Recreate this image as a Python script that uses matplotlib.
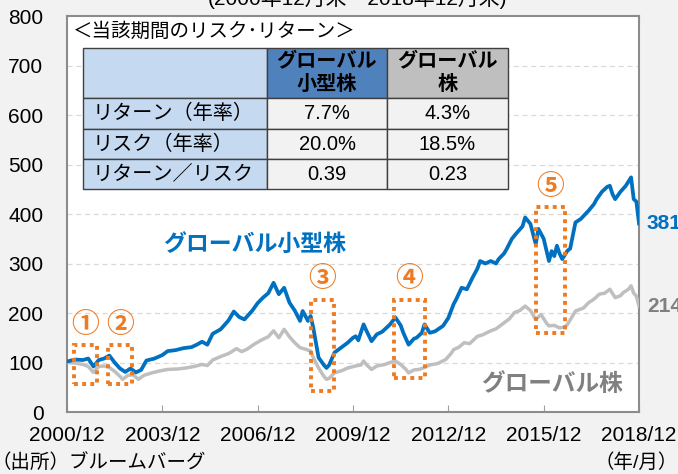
import matplotlib.pyplot as plt
from matplotlib.patches import Rectangle

plt.rcParams['font.family'] = ['Liberation Sans', 'Noto Sans CJK JP']

# months since 2000/12 and index values (2000/12 = 100)
small_m = [0, 3, 6, 8, 10, 12, 14, 16, 18, 20, 22, 24, 26, 28, 30, 33, 36, 38, 41, 44,
           47, 49, 51, 53, 55, 58, 61, 63, 65, 67, 70, 72, 74, 76, 78, 80, 82, 84, 86, 88,
           89, 91, 92, 93, 95, 97, 98, 99, 101, 103, 106, 108, 109, 110, 112, 113, 115, 117, 119, 122,
           124, 126, 127, 129, 131, 132, 134, 135, 137, 139, 142, 144, 146, 147, 149, 151, 153, 155, 156, 158,
           160, 162, 163, 165, 166, 168, 170, 172, 173, 175, 177, 178, 180, 182, 183, 184, 185, 186, 187, 189,
           190, 192, 194, 197, 199, 200, 202, 204, 205, 206, 207, 209, 211, 213, 214, 215, 216]
small_v = [102, 106, 105, 108, 92, 105, 108, 114, 100, 88, 81, 88, 80, 85, 104, 108, 115, 123, 125, 129,
           131, 136, 142, 136, 158, 167, 185, 203, 192, 187, 205, 220, 231, 240, 261, 238, 251, 221, 205, 184,
           204, 184, 194, 170, 110, 95, 89, 95, 120, 128, 140, 150, 153, 145, 177, 165, 143, 157, 162, 177,
           191, 175, 160, 136, 148, 150, 160, 177, 160, 163, 174, 190, 218, 228, 251, 248, 270, 290, 305, 300,
           305, 300, 309, 320, 329, 350, 363, 375, 393, 380, 339, 370, 350, 305, 325, 315, 336, 320, 309, 326,
           330, 383, 390, 407, 420, 430, 445, 455, 457, 440, 430, 445, 457, 474, 430, 425, 381]

global_m = [0, 3, 6, 8, 10, 12, 14, 16, 18, 20, 21, 23, 25, 27, 29, 32, 35, 38, 42, 45,
            48, 51, 53, 55, 58, 61, 64, 66, 68, 71, 74, 76, 78, 80, 82, 84, 86, 88, 90, 92,
            93, 95, 97, 98, 99, 101, 104, 106, 109, 111, 112, 113, 115, 117, 120, 122, 124, 126, 128, 129,
            131, 133, 135, 137, 140, 143, 145, 146, 148, 150, 152, 155, 157, 160, 162, 165, 167, 169, 171, 173,
            175, 177, 179, 181, 182, 184, 186, 188, 189, 191, 192, 195, 197, 199, 201, 203, 205, 207, 209, 210,
            212, 213, 214, 215, 216]
global_v = [100, 99, 96, 92, 80, 92, 93, 90, 82, 72, 66, 74, 75, 66, 74, 79, 83, 86, 87, 89,
            92, 96, 94, 105, 112, 118, 128, 122, 127, 138, 147, 152, 164, 150, 167, 152, 140, 130, 127, 123,
            110, 89, 72, 66, 68, 79, 84, 89, 93, 95, 103, 96, 86, 93, 96, 100, 103, 96, 86, 79,
            85, 86, 90, 95, 98, 106, 118, 126, 131, 140, 138, 153, 156, 164, 168, 180, 188, 201, 205, 214,
            205, 187, 197, 180, 174, 175, 170, 172, 177, 195, 204, 210, 221, 228, 238, 240, 248, 231, 235, 241,
            248, 255, 240, 234, 214]

# highlighted periods: month range, value range, label
box_m0 = [2.5, 15.5, 92, 123.5, 177]
box_m1 = [11.5, 24.5, 101, 135, 188]
box_lo = [57, 57, 42, 69, 159]
box_hi = [136, 136, 226, 226, 415]
box_labels = ['①', '②', '③', '④', '⑤']
box_label_v = [174, 174, 267, 267, 452]

tick_m = [0, 36, 72, 108, 144, 180, 216]
tick_labels = ['2000/12', '2003/12', '2006/12', '2009/12', '2012/12', '2015/12', '2018/12']

table_rows = ['リターン（年率）', 'リスク（年率）', 'リターン／リスク']
table_small = ['7.7%', '20.0%', '0.39']
table_global = ['4.3%', '18.5%', '0.23']

blue = '#0070C0'
grey = '#BFBFBF'
orange = '#EE7B22'

fig = plt.figure(figsize=(6.78, 4.74), dpi=100, facecolor='#F2F2F2')
ax = fig.add_axes([0.0988, 0.1308, 0.8437, 0.8354])
ax.set_facecolor('white')

ax.plot(global_m, global_v, color=grey, lw=2.5, zorder=3)
ax.plot(small_m, small_v, color=blue, lw=2.7, zorder=4)

ax.set_xlim(0, 216)
ax.set_ylim(0, 800)
ax.set_xticks(tick_m)
ax.set_xticklabels(tick_labels)
ax.set_yticks(range(0, 801, 100))
ax.tick_params(axis='x', direction='in', length=5, color='#A0A0A0', labelsize=15, pad=10)
ax.tick_params(axis='y', length=0, labelsize=15, pad=17)
for y in range(100, 800, 100):
    ax.axhline(y, color='#D9D9D9', lw=0.9, ls=(0, (4, 3)), zorder=1)
for s in ax.spines.values():
    s.set_color('#8C8C8C')
    s.set_linewidth(1.5)

for i in range(len(box_labels)):
    ax.add_patch(Rectangle((box_m0[i], box_lo[i]), box_m1[i] - box_m0[i], box_hi[i] - box_lo[i],
                           fill=False, edgecolor=orange, lw=2.8, ls=(0, (1, 1.1)), zorder=5))
    ax.text((box_m0[i] + box_m1[i]) / 2, box_label_v[i], box_labels[i], color=orange,
            fontsize=20, fontweight='bold', ha='center', va='center', zorder=6)

ax.text(71, 338, 'グローバル小型株', color=blue, fontsize=16.5, fontweight='bold',
        ha='center', va='center')
ax.text(183, 55, 'グローバル株', color='#808080', fontsize=17, fontweight='bold',
        ha='center', va='center')
ax.text(219, small_v[-1], str(small_v[-1]), color=blue, fontsize=15, fontweight='bold',
        ha='left', va='center', clip_on=False)
ax.text(219, global_v[-1], str(global_v[-1]), color='#808080', fontsize=15, fontweight='bold',
        ha='left', va='center', clip_on=False)

# risk / return table
ax.text(0.0105, 0.96, '＜当該期間のリスク･リターン＞', transform=ax.transAxes,
        fontsize=14, ha='left', va='center')
cells = [['', 'グローバル\n小型株', 'グローバル\n株']]
colours = [['#C5D9F1', '#4F81BD', '#BFBFBF']]
for r, a, b in zip(table_rows, table_small, table_global):
    cells.append([r, a, b])
    colours.append(['#C5D9F1', '#F2F2F2', '#F2F2F2'])
tbl = ax.table(cellText=cells, cellColours=colours, colWidths=[184, 120, 121],
               cellLoc='center', bbox=[0.028, 0.563, 0.743, 0.356])
tbl.auto_set_font_size(False)
tbl.set_fontsize(14.5)
tbl.set_zorder(7)
heights = [50, 31, 30, 30]
for (r, c), cell in tbl.get_celld().items():
    cell.set_height(heights[r])
    cell.set_edgecolor('#404040')
    cell.set_linewidth(1)
    if r == 0:
        cell.get_text().set_fontweight('bold')
    if c == 0 and r > 0:
        cell.PAD = 0.05
        cell.set_text_props(ha='left')
        cell._loc = 'left'

fig.text(0.528, 0.99, '(2000年12月末～2018年12月末)', fontsize=15, ha='center', va='baseline')
fig.text(-0.012, 0.025, '（出所）ブルームバーグ', fontsize=14, ha='left', va='center')
fig.text(1.0, 0.025, '（年/月）', fontsize=14, ha='right', va='center')

fig.savefig('out.png', dpi=100, facecolor=fig.get_facecolor())
